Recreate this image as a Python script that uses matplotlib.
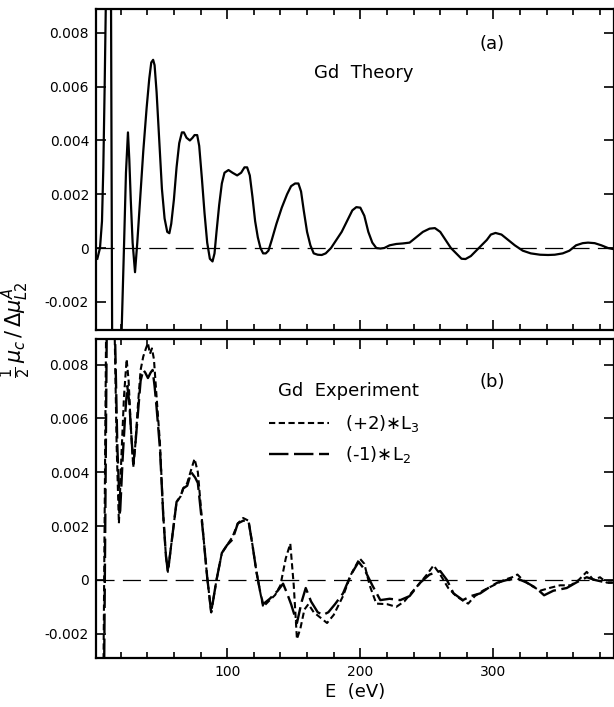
import matplotlib
matplotlib.use("Agg")
import matplotlib.pyplot as plt
from matplotlib.ticker import FixedLocator, FixedFormatter, MultipleLocator

plt.rcParams['lines.scale_dashes'] = False
plt.rcParams['font.family'] = ['DejaVu Sans']

# ---- data ----
# (a) Gd theory
theory_E = [2.5, 4.5, 6, 7, 8, 9, 10, 11.5, 12.8, 13.6, 15, 17, 19, 20.8, 22.5, 24,
            25.5, 26.5, 27.6, 29, 30.8, 32.5, 34.6, 37, 39.5, 41.5, 43, 44.4, 45.5, 47,
            49, 51, 53, 55, 56.6, 58, 60, 62, 64, 66, 67.5, 69.5, 72, 74, 75.5, 77.5,
            79, 81, 83, 85, 87, 89, 90.5, 92, 94, 96, 98, 101, 104, 107.5, 110.5, 113,
            115, 117, 119, 121, 123, 125, 127, 129, 131, 133.5, 137, 141, 145, 148, 151,
            153.5, 155.5, 157.5, 160, 162.5, 165, 168, 171, 174, 178, 182, 186, 190, 194,
            197, 200, 203, 206, 209, 212, 215, 218, 222, 227, 232, 237, 242, 247, 252,
            256, 260, 264, 268, 272, 276, 279, 283, 287, 291, 295, 298, 301.5, 306, 311,
            316, 322, 328, 335, 341, 346, 352, 357, 362, 367, 371, 376, 381, 386, 391]
theory_val = [-0.0004, 0.0, 0.001, 0.003, 0.006, 0.0095, 0.014, 0.014, 0.009, -0.003,
              -0.008, -0.009, -0.006, -0.003, 0.0, 0.0028, 0.0043, 0.0033, 0.0018, 0.0002,
              -0.0009, 0.0002, 0.0018, 0.0036, 0.0052, 0.0063, 0.0069, 0.0070, 0.0068,
              0.0058, 0.0040, 0.0022, 0.0011, 0.0006, 0.00055, 0.0009, 0.0018, 0.0030,
              0.0039, 0.0043, 0.0043, 0.0041, 0.0040, 0.0041, 0.0042, 0.0042, 0.0038,
              0.0026, 0.0013, 0.0002, -0.0004, -0.0005, -0.0002, 0.0006, 0.0016, 0.0024,
              0.0028, 0.0029, 0.0028, 0.0027, 0.0028, 0.0030, 0.0030, 0.0027, 0.0019,
              0.0010, 0.0004, 0.0, -0.0002, -0.0002, -0.0001, 0.0003, 0.0009, 0.0015,
              0.0020, 0.0023, 0.0024, 0.0024, 0.0021, 0.0014, 0.0006, 0.0001, -0.0002,
              -0.00025, -0.00026, -0.0002, 0.0, 0.0003, 0.0006, 0.0010, 0.0014, 0.00152,
              0.0015, 0.0012, 0.0006, 0.0002, 0.0, -0.00002, 0.0, 0.0001, 0.00015,
              0.00017, 0.0002, 0.0004, 0.0006, 0.00072, 0.00074, 0.0006, 0.0003, 0.0,
              -0.0002, -0.0004, -0.00041, -0.0003, -0.0001, 0.0001, 0.0003, 0.0005,
              0.00056, 0.0005, 0.0003, 0.0001, -0.0001, -0.0002, -0.00025, -0.00026,
              -0.00025, -0.0002, -0.0001, 0.0001, 0.00018, 0.0002, 0.00018, 0.0001, 0.0,
              -0.00005]

# (b) Gd experiment, (+2)*L3
l3_E = [3, 7, 9.5, 12, 14.5, 17, 18.7, 20.5, 22.5, 24.5, 26, 27.5, 29.5, 31, 33, 35,
        37, 39, 40.5, 42, 43.5, 45, 47, 49.5, 52, 54, 55.5, 58, 62, 65, 67, 70, 73,
        75.5, 78, 82, 85, 88, 92, 96, 100, 104, 108, 112, 116, 119, 122, 125, 127, 131,
        136, 140, 144, 147.4, 150, 152.4, 155, 158, 161, 165, 170, 175, 180, 187, 193,
        199.5, 203, 207, 212, 220, 227, 233, 238, 245, 250, 255, 260, 266, 272, 278,
        281, 286, 292, 300, 308, 314, 318, 322, 328, 335, 342, 350, 358, 364, 370, 375,
        380, 385, 392]
l3_val = [-0.012, -0.004, 0.012, 0.016, 0.012, 0.005, 0.0021, 0.0045, 0.0068, 0.0082,
          0.0074, 0.0058, 0.0042, 0.0050, 0.0065, 0.0078, 0.0083, 0.0086, 0.0088, 0.0084,
          0.0086, 0.0082, 0.0068, 0.0051, 0.0024, 0.0009, 0.0003, 0.0013, 0.0029, 0.0031,
          0.0034, 0.0036, 0.0041, 0.0045, 0.0040, 0.0017, 0.0001, -0.0012, 0.0, 0.0010,
          0.0013, 0.0016, 0.0021, 0.0023, 0.0022, 0.0013, 0.0003, -0.0005, -0.0010,
          -0.0008, -0.00056, -0.0002, 0.0008, 0.00135, -0.0002, -0.0022, -0.0018,
          -0.0011, -0.0009, -0.0012, -0.0014, -0.0016, -0.0013, -0.0006, 0.0002, 0.0008,
          0.0006, -0.0002, -0.00088, -0.0009, -0.0010, -0.0008, -0.0005, -0.0001, 0.0002,
          0.00054, 0.0002, -0.0003, -0.0006, -0.0008, -0.00088, -0.0006, -0.0004,
          -0.0002, 0.0, 0.0001, 0.0002, 0.0, -0.0002, -0.0004, -0.0003, -0.0002, -0.0002,
          0.0, 0.0003, 0.0, 0.0001, -0.0001, -0.0001]

# (b) Gd experiment, (-1)*L2
l2_E = [3, 7.5, 10, 12.5, 15, 17.5, 19.5, 21.5, 23.5, 25, 26.5, 28, 29.5, 31, 33, 35,
        37, 38.5, 40.5, 42.5, 44, 45.5, 47, 49.5, 52, 54, 55.5, 58, 62, 65, 67, 70, 73,
        76, 78, 82, 85, 88, 92, 96, 100, 104, 108, 112, 116, 119, 122, 125, 127, 132,
        138, 142, 145, 148, 152.4, 156, 159, 163, 168, 172, 176, 181, 187, 193, 198.7,
        203, 209, 215, 222, 230, 237, 245, 252, 260, 265, 270, 277, 283, 290, 296, 303,
        310, 318, 325, 332, 338, 345, 355, 362, 370, 376, 385, 392]
l2_val = [-0.012, -0.004, 0.012, 0.015, 0.011, 0.005, 0.0024, 0.0045, 0.0062, 0.0072,
          0.0066, 0.0054, 0.0043, 0.0050, 0.0062, 0.0074, 0.0078, 0.0077, 0.0075, 0.0077,
          0.0078, 0.0072, 0.0064, 0.0049, 0.0024, 0.0009, 0.0003, 0.0013, 0.0029, 0.0031,
          0.0034, 0.0035, 0.0040, 0.0038, 0.0036, 0.0017, 0.0001, -0.0012, 0.0, 0.0010,
          0.0013, 0.0015, 0.0021, 0.0022, 0.0022, 0.0013, 0.0003, -0.0005, -0.0009,
          -0.0007, -0.0004, -0.00014, -0.0005, -0.0009, -0.0016, -0.0008, -0.0003,
          -0.0008, -0.0012, -0.0013, -0.0012, -0.0009, -0.0005, 0.0002, 0.00067, 0.0004,
          -0.0002, -0.00075, -0.0007, -0.00075, -0.0006, -0.0001, 0.0002, 0.00033, 0.0,
          -0.0005, -0.00075, -0.0006, -0.0005, -0.0003, -0.0001, 0.0, 0.00005, -0.0001,
          -0.0003, -0.00057, -0.0004, -0.0003, -0.0001, 0.0001, 0.0, -0.0001, -0.0001]

y_ticks = [-0.002, 0, 0.002, 0.004, 0.006, 0.008]
y_tick_labels = ['-0.002', '0', '0.002', '0.004', '0.006', '0.008']
x_ticks = [100, 200, 300]
x_tick_labels = ['100', '200', '300']

W, H = 614, 707
fig = plt.figure(figsize=(W / 100, H / 100), dpi=100)
left = 96 / W
ax_a = fig.add_axes([left, 1 - 330 / H, 1 - left, 321 / H])
ax_b = fig.add_axes([left, 1 - 658 / H, 1 - left, 319 / H])


def style_axis(ax, ylim, show_xlabels):
    ax.set_xlim(1.5, 390.5)
    ax.set_ylim(*ylim)
    ax.xaxis.set_major_locator(FixedLocator(x_ticks))
    ax.xaxis.set_minor_locator(MultipleLocator(20))
    ax.yaxis.set_major_locator(FixedLocator(y_ticks))
    ax.yaxis.set_major_formatter(FixedFormatter(y_tick_labels))
    if show_xlabels:
        ax.xaxis.set_major_formatter(FixedFormatter(x_tick_labels))
    else:
        ax.set_xticklabels([])
    ax.tick_params(which='both', direction='in', top=True, right=True, width=1.2,
                   labelsize=10, colors='black')
    ax.tick_params(which='major', length=7)
    ax.tick_params(which='minor', length=4.5)
    ax.tick_params(axis='both', pad=5)
    for sp in ax.spines.values():
        sp.set_linewidth(1.6)
    # dashed zero line
    ax.axhline(0, color='black', lw=0.9, dashes=(13, 6))


# (a) theory
style_axis(ax_a, (-0.00305, 0.00889), False)
ax_a.plot(theory_E, theory_val, color='black', lw=1.6)
ax_a.text(0.517, 0.80, 'Gd  Theory', transform=ax_a.transAxes, fontsize=13,
          ha='center', va='center')
ax_a.text(0.765, 0.89, '(a)', transform=ax_a.transAxes, fontsize=13,
          ha='center', va='center')

# (b) experiment
style_axis(ax_b, (-0.0029, 0.00895), True)
ax_b.plot(l3_E, l3_val, color='black', lw=1.5, dashes=(4.5, 2.5), label='(+2)$\\ast$L$_3$')
ax_b.plot(l2_E, l2_val, color='black', lw=1.7, dashes=(14, 4), label='(-1)$\\ast$L$_2$')
ax_b.text(0.488, 0.837, 'Gd  Experiment', transform=ax_b.transAxes, fontsize=13,
          ha='center', va='center')
ax_b.text(0.765, 0.865, '(b)', transform=ax_b.transAxes, fontsize=13,
          ha='center', va='center')
ax_b.legend(loc='upper left', bbox_to_anchor=(0.32, 0.79), frameon=False, fontsize=13,
            handlelength=3.3, handletextpad=0.9, labelspacing=0.55, borderaxespad=0)

fig.text(0.026, 1 - 330 / H, '$\\frac{1}{2}\\,\\mu_c\\,/\\,\\Delta\\mu^{A}_{L2}$',
         rotation=90, ha='center', va='center', fontsize=15)
fig.text(355 / W, 1 - 692 / H, 'E  (eV)', ha='center', va='center', fontsize=13)

fig.savefig('out.png', dpi=100, facecolor='white')
